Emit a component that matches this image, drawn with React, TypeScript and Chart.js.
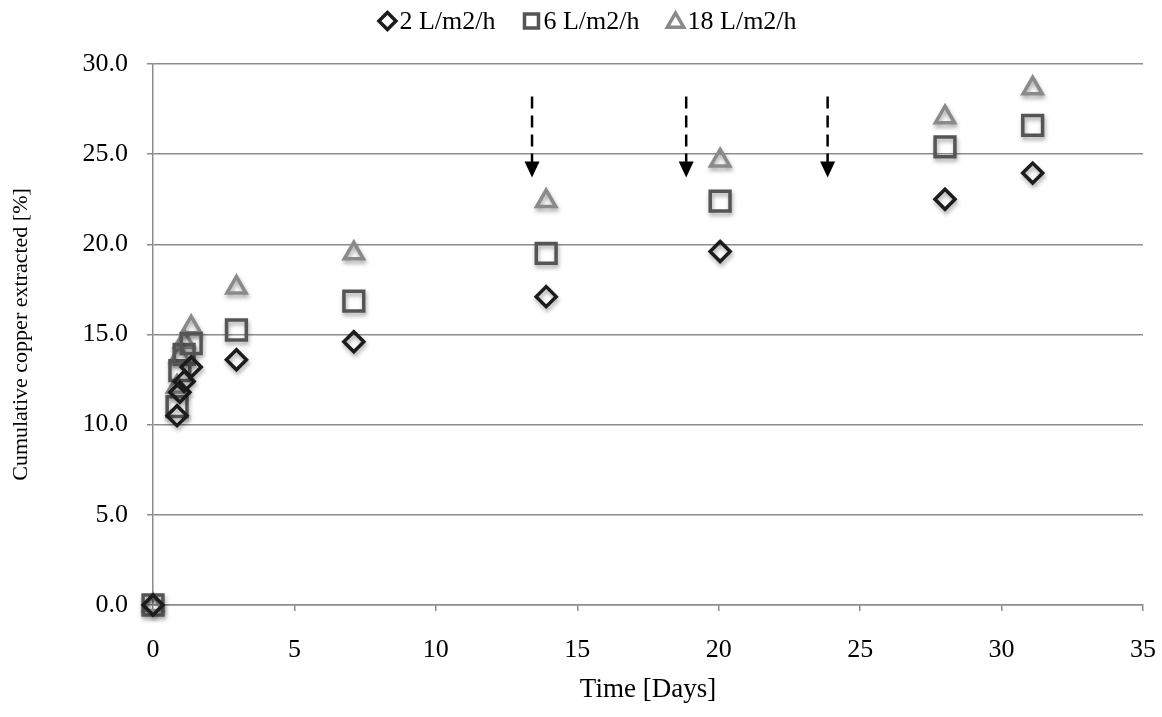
import React, { useEffect, useRef } from 'react';
import { Chart, registerables } from 'chart.js';

Chart.register(...registerables);

// ---------- data ----------
const days = [0, 0.85, 0.95, 1.1, 1.35, 2.95, 7.1, 13.9, 20.05, 28.0, 31.1];
const rate2 = [0, 10.5, 11.8, 12.4, 13.2, 13.6, 14.6, 17.1, 19.6, 22.5, 23.95];
const rate6 = [0, 11.0, 13.0, 13.9, 14.5, 15.25, 16.85, 19.5, 22.4, 25.4, 26.6];
const rate18 = [0, 12.1, 13.8, 14.6, 15.4, 17.6, 19.5, 22.4, 24.65, 27.05, 28.65];
const seriesLabels = ['2 L/m2/h', '6 L/m2/h', '18 L/m2/h'];
const arrowDays = [13.4, 18.85, 23.85];
const arrowTopValue = 28.2;
const arrowTipValue = 23.7;
const xTickStep = 5;
const yTickStep = 5;

const FONT = "'Liberation Serif', 'Times New Roman', serif";

const toPoints = (ys: number[]) => days.map((d, i) => ({ x: d, y: ys[i] }));

const shadowPlugin = {
  id: 'markerShadow',
  beforeDatasetsDraw(chart: any) {
    const ctx = chart.ctx;
    ctx.save();
    ctx.shadowColor = 'rgba(0,0,0,0.35)';
    ctx.shadowBlur = 4;
    ctx.shadowOffsetX = 1;
    ctx.shadowOffsetY = 3;
  },
  afterDatasetsDraw(chart: any) {
    chart.ctx.restore();
  },
};

const arrowPlugin = {
  id: 'arrows',
  afterDraw(chart: any) {
    const ctx = chart.ctx;
    const xs = chart.scales.x;
    const ys = chart.scales.y;
    ctx.save();
    arrowDays.forEach((d) => {
      const px = xs.getPixelForValue(d);
      const top = ys.getPixelForValue(arrowTopValue);
      const tip = ys.getPixelForValue(arrowTipValue);
      const headH = 16;
      ctx.strokeStyle = '#000';
      ctx.lineWidth = 2.5;
      ctx.setLineDash([12, 7]);
      ctx.beginPath();
      ctx.moveTo(px, top);
      ctx.lineTo(px, tip - headH + 2);
      ctx.stroke();
      ctx.setLineDash([]);
      ctx.fillStyle = '#000';
      ctx.beginPath();
      ctx.moveTo(px - 7.5, tip - headH);
      ctx.lineTo(px + 7.5, tip - headH);
      ctx.lineTo(px, tip);
      ctx.closePath();
      ctx.fill();
    });
    ctx.restore();
  },
};

// custom legend: marker directly followed by its label, items spaced apart
const legendPlugin = {
  id: 'customLegend',
  afterDraw(chart: any) {
    const ctx = chart.ctx;
    const datasets = chart.data.datasets;
    const markerW = 20;
    const markerGap = 2;
    const itemGap = 26;
    const cy = 21;
    ctx.save();
    ctx.font = `26px ${FONT}`;
    ctx.textBaseline = 'middle';
    ctx.textAlign = 'left';
    const widths = datasets.map((ds: any) => markerW + markerGap + ctx.measureText(ds.label).width);
    const total = widths.reduce((a: number, b: number) => a + b, 0) + itemGap * (datasets.length - 1);
    let x = chart.width / 2 + 6 - total / 2;
    datasets.forEach((ds: any, i: number) => {
      const cx = x + markerW / 2;
      ctx.strokeStyle = ds.borderColor;
      ctx.lineWidth = 3.5;
      ctx.lineJoin = 'miter';
      ctx.beginPath();
      if (ds.pointStyle === 'rectRot') {
        const r = 8.5;
        ctx.moveTo(cx - r, cy);
        ctx.lineTo(cx, cy - r);
        ctx.lineTo(cx + r, cy);
        ctx.lineTo(cx, cy + r);
        ctx.closePath();
      } else if (ds.pointStyle === 'rect') {
        const h = 7;
        ctx.rect(cx - h, cy - h, 2 * h, 2 * h);
      } else {
        const r = 9.5;
        for (let k = 0; k < 3; k++) {
          const a = -Math.PI / 2 + (k * 2 * Math.PI) / 3;
          const px = cx + r * Math.cos(a);
          const py = cy + 1.5 + r * Math.sin(a);
          if (k === 0) ctx.moveTo(px, py);
          else ctx.lineTo(px, py);
        }
        ctx.closePath();
      }
      ctx.stroke();
      ctx.fillStyle = '#000';
      ctx.fillText(ds.label, x + markerW + markerGap, cy + 1);
      x += widths[i] + itemGap;
    });
    ctx.restore();
  },
};

export default function App() {
  const ref = useRef<HTMLCanvasElement | null>(null);

  useEffect(() => {
    if (!ref.current) return;
    const common = {
      showLine: false,
      backgroundColor: 'rgba(255,255,255,0)',
      borderWidth: 3.5,
      clip: false as any,
    };
    const chart = new Chart(ref.current, {
      type: 'scatter',
      data: {
        datasets: [
          {
            ...common,
            label: seriesLabels[0],
            data: toPoints(rate2),
            pointStyle: 'rectRot',
            pointRadius: 10,
            borderColor: '#1c1c1c',
          },
          {
            ...common,
            label: seriesLabels[1],
            data: toPoints(rate6),
            pointStyle: 'rect',
            pointRadius: 14,
            borderColor: '#555555',
          },
          {
            ...common,
            label: seriesLabels[2],
            data: toPoints(rate18),
            pointStyle: 'triangle',
            pointRadius: 11,
            borderColor: '#8a8a8a',
          },
        ],
      },
      options: {
        animation: false,
        responsive: false,
        maintainAspectRatio: false,
        layout: { padding: { left: 0, right: 19, top: 64, bottom: 4 } },
        plugins: {
          tooltip: { enabled: false },
          legend: { display: false },
        },
        scales: {
          x: {
            type: 'linear',
            min: 0,
            max: 35,
            ticks: {
              stepSize: xTickStep,
              font: { family: FONT, size: 26 },
              color: '#000',
              padding: 24,
            },
            grid: {
              display: true,
              drawOnChartArea: false,
              drawTicks: true,
              tickLength: 6,
              color: '#8c8c8c',
              lineWidth: 1.5,
            },
            border: { display: true, color: '#8c8c8c', width: 1.5 },
            title: {
              display: true,
              text: 'Time [Days]',
              font: { family: FONT, size: 27 },
              color: '#000',
              padding: { top: 4, bottom: 7 },
            },
            afterFit: (s: any) => {
              s.height = 717 - 605 - 4;
              s.paddingLeft = 0;
              s.paddingRight = 0;
            },
          },
          y: {
            type: 'linear',
            min: 0,
            max: 30,
            ticks: {
              stepSize: yTickStep,
              font: { family: FONT, size: 26 },
              color: '#000',
              padding: 19,
              callback: (v: any) => Number(v).toFixed(1),
            },
            grid: {
              display: true,
              drawOnChartArea: true,
              drawTicks: true,
              tickLength: 6,
              color: '#8c8c8c',
              lineWidth: 1.5,
            },
            border: { display: true, color: '#8c8c8c', width: 1.5 },
            title: {
              display: true,
              text: 'Cumulative copper extracted [%]',
              font: { family: FONT, size: 22 },
              color: '#000',
              padding: { top: 8, bottom: 0 },
            },
            afterFit: (s: any) => {
              s.width = 153;
              s.paddingTop = 0;
              s.paddingBottom = 0;
            },
          },
        },
      },
      plugins: [shadowPlugin, arrowPlugin, legendPlugin],
    });
    return () => chart.destroy();
  }, []);

  return (
    <div style={{ position: 'absolute', left: 0, top: 0, width: 1162, height: 717, background: '#fff' }}>
      <canvas ref={ref} width={1162} height={717} />
    </div>
  );
}
